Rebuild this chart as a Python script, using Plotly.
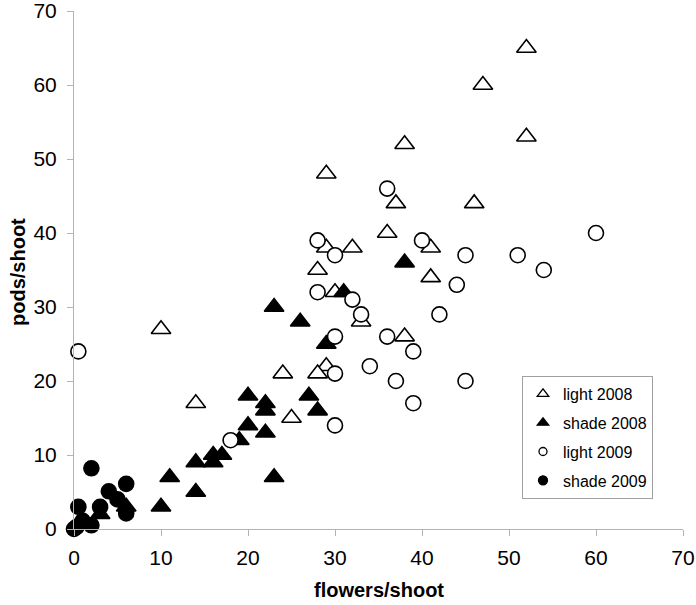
import plotly.graph_objects as go

# light 2008 (open triangles)
light08_x = [52, 47, 52, 38, 29, 37, 46, 36, 29, 32, 41, 28, 41, 30, 33, 38, 10, 29, 28, 24, 14, 25]
light08_y = [65, 60, 53, 52, 48, 44, 44, 40, 38, 38, 38, 35, 34, 32, 28, 26, 27, 22, 21, 21, 17, 15]

# shade 2008 (filled triangles)
shade08_x = [38, 31, 23, 26, 29, 20, 27, 22, 22, 28, 20, 22, 19, 16, 17, 16, 14, 11, 23, 14, 10, 3, 6]
shade08_y = [36, 32, 30, 28, 25, 18, 18, 17, 16, 16, 14, 13, 12, 10, 10, 9, 9, 7, 7, 5, 3, 2, 3]

# light 2009 (open circles)
light09_x = [36, 60, 28, 40, 30, 45, 51, 54, 44, 28, 32, 33, 42, 30, 36, 0.5, 39, 34, 30, 37, 45, 39, 30, 18]
light09_y = [46, 40, 39, 39, 37, 37, 37, 35, 33, 32, 31, 29, 29, 26, 26, 24, 24, 22, 21, 20, 20, 17, 14, 12]

# shade 2009 (filled circles)
shade09_x = [2, 6, 4, 5, 0.5, 3, 6, 1, 2, 0, 0.3]
shade09_y = [8.2, 6.1, 5.1, 4, 3, 3, 2.1, 1.1, 0.5, 0, 0.3]

names = ["light 2008", "shade 2008", "light 2009", "shade 2009"]
x_title = "flowers/shoot"
y_title = "pods/shoot"

series = [(light08_x, light08_y), (shade08_x, shade08_y), (light09_x, light09_y), (shade09_x, shade09_y)]
symbols = ["triangle-up", "triangle-up", "circle", "circle"]
fills = ["white", "black", "white", "black"]
sizes = [17, 17, 15, 15]
leg_sizes = [10, 10, 8, 9]

FONT = "Liberation Sans, Arial, sans-serif"

fig = go.Figure()
for (xs, ys), sym, fc, sz in zip(series, symbols, fills, sizes):
    fig.add_trace(go.Scatter(
        x=xs, y=ys, mode="markers", showlegend=False, cliponaxis=False,
        marker=dict(symbol=sym, size=sz, color=fc, line=dict(color="black", width=1.6)),
    ))

for i, (nm, sym, fc, ls) in enumerate(zip(names, symbols, fills, leg_sizes)):
    fig.add_trace(go.Scatter(
        x=[None], y=[None], mode="markers", name=nm, legendgroup=str(i),
        marker=dict(symbol=sym, size=ls, color=fc, line=dict(color="black", width=1.3)),
    ))

axis_common = dict(
    range=[0, 70], dtick=10, showgrid=False, zeroline=False, automargin=False,
    showline=True, linecolor="#b4b4b4", linewidth=1,
    ticks="outside", ticklen=6, tickcolor="#b4b4b4", tickwidth=1,
    ticklabeloverflow="allow",
    tickfont=dict(family=FONT, size=21, color="black"),
)

fig.update_layout(
    width=696, height=605,
    margin=dict(l=74, r=13, t=11, b=76),
    paper_bgcolor="white", plot_bgcolor="white",
    xaxis=dict(**axis_common, ticklabelstandoff=4),
    yaxis=dict(**axis_common, ticklabelstandoff=6),
    legend=dict(
        x=(522 - 74) / 609, y=(529 - 376) / 518, xanchor="left", yanchor="top",
        bgcolor="white", bordercolor="#a0a0a0", borderwidth=1,
        font=dict(family=FONT, size=16, color="black"),
        traceorder="grouped", tracegroupgap=5, itemwidth=30,
    ),
    annotations=[
        dict(text="<b>%s</b>" % x_title, xref="paper", yref="paper",
             x=0.5, y=-(590 - 529) / 518, xanchor="center", yanchor="middle",
             showarrow=False, font=dict(family=FONT, size=20, color="black")),
        dict(text="<b>%s</b>" % y_title, xref="paper", yref="paper",
             x=-(74 - 18) / 609, y=(529 - 272) / 518, xanchor="center", yanchor="middle",
             textangle=-90, showarrow=False, font=dict(family=FONT, size=20, color="black")),
    ],
)

fig.write_html("out.html", config={"displayModeBar": False},
               post_script="document.body.style.margin='0';")
